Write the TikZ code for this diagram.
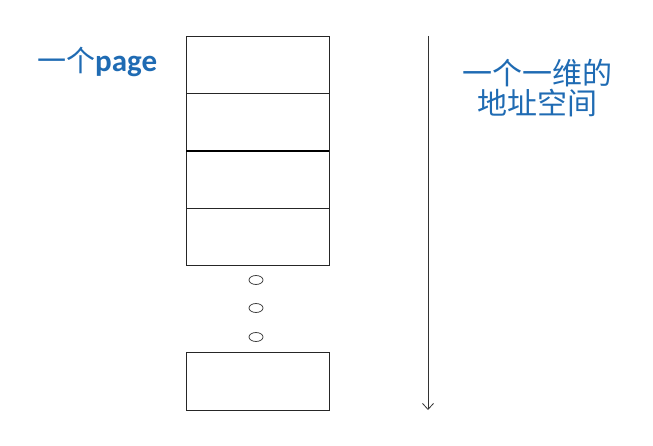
\documentclass[tikz,border=0pt]{standalone}
\usepackage{fontspec}
\setmainfont{Carlito}
\newfontfamily\cjk{Noto Sans CJK SC}
\usepackage{tikz}
\usetikzlibrary{arrows.meta}
\definecolor{labelblue}{HTML}{1F6BB3}
\tikzset{
  cellline/.style={draw=black!85,line width=0.9pt},
  dotline/.style={draw=black!75,line width=0.8pt},
  pagelabel/.style={text=labelblue,font=\fontsize{31}{33}\selectfont\bfseries,inner sep=0pt},
  spacelabel/.style={text=labelblue,font=\fontsize{30}{32}\selectfont\cjk,inner sep=0pt}
}
\newcommand{\pagecell}[4]{ \draw[cellline] ( #1 , #2 ) rectangle ( #3 , #4 );}
\newcommand{\gapdot}[2]{ \draw[dotline] ( #1 , #2 ) ellipse (7 and 4.5);}

\begin{document}
\begin{tikzpicture}[x=1pt,y=-1pt]
\useasboundingbox (0,0) rectangle (653,446);
% stack of pages
\pagecell{186}{36}{329}{93}
\pagecell{186}{93}{329}{151}
\pagecell{186}{151}{329}{208}
\pagecell{186}{208}{329}{265}
\draw[line width=1.6pt] (186,151) -- (329,151);
% gap between the pages
\gapdot{256}{280}
\gapdot{256}{308}
\gapdot{256}{337}
% last page
\pagecell{186}{352}{329}{410}
% address axis
\coordinate (axistop) at (428,36);
\coordinate (axisend) at (428,410);
\draw[black!80,line width=0.8pt,-{Straight Barb[length=6pt,width=11pt]}] (axistop) -- (axisend);
% labels
\node[pagelabel,anchor=base west] (pagetext) at (37,72) {{\cjk\mdseries\fontsize{29}{31}\selectfont 一个}page};
\node[spacelabel,anchor=base] (spacetop) at (537,85) {一个一维的};
\node[spacelabel,anchor=base] (spacebottom) at (537,115) {地址空间};
\end{tikzpicture}
\end{document}
